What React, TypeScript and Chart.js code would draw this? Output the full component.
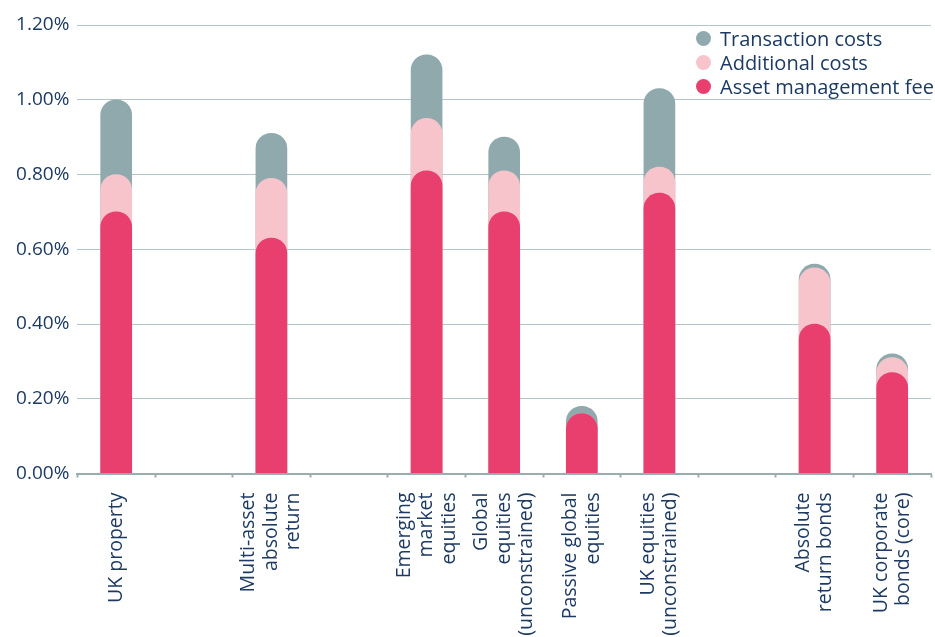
import React, { useEffect, useRef } from 'react';
import { Chart, registerables } from 'chart.js';

Chart.register(...registerables);

// ---- data ----
const categoryLabels: string[][] = [
  ['UK property'],
  [],
  ['Multi-asset', 'absolute', 'return'],
  [],
  ['Emerging', 'market', 'equities'],
  ['Global', 'equities', '(unconstrained)'],
  ['Passive global', 'equities'],
  ['UK equities', '(unconstrained)'],
  [],
  ['Absolute', 'return bonds'],
  ['UK corporate', 'bonds (core)'],
];
const assetManagementFee: (number | null)[] = [0.70, null, 0.63, null, 0.81, 0.70, 0.16, 0.75, null, 0.40, 0.27];
const additionalCosts: (number | null)[] = [0.10, null, 0.16, null, 0.14, 0.11, 0.00, 0.07, null, 0.15, 0.04];
const transactionCosts: (number | null)[] = [0.20, null, 0.12, null, 0.17, 0.09, 0.02, 0.21, null, 0.01, 0.01];
const seriesNames = ['Transaction costs', 'Additional costs', 'Asset management fee'];
const yMin = 0;
const yMax = 1.2;
const yStep = 0.2;

// ---- style ----
const NAVY = '#1d3a63';
const GRAY = '#8fa9ad';
const PINK = '#f7c4cc';
const RED = '#e83f6f';
const GRID = '#b2c6c8';
const AXIS = '#9aadb0';
const FONT = '"Open Sans", "Noto Sans", sans-serif';
const seriesColors = [GRAY, PINK, RED];

const cumulative = (...arrs: (number | null)[][]) =>
  arrs[0].map((_, i) => {
    if (arrs.some((a) => a[i] == null)) return null;
    return +arrs.reduce((s, a) => s + (a[i] as number), 0).toFixed(4);
  });

const xLabelPlugin = {
  id: 'xLabelsCentered',
  afterDraw(chart: any) {
    const xs = chart.scales.x;
    const ctx = chart.ctx;
    const lh = 22.5;
    ctx.save();
    ctx.font = `19.5px ${FONT}`;
    ctx.fillStyle = NAVY;
    ctx.textAlign = 'right';
    ctx.textBaseline = 'middle';
    (chart.data.labels as string[][]).forEach((lines, i) => {
      const cx = xs.getPixelForValue(i);
      const n = lines.length;
      lines.forEach((line, j) => {
        ctx.save();
        ctx.translate(cx + (j - (n - 1) / 2) * lh, xs.top + 19);
        ctx.rotate(-Math.PI / 2);
        ctx.fillText(line, 0, 0);
        ctx.restore();
      });
    });
    ctx.restore();
  },
};

export default function App() {
  const canvasRef = useRef<HTMLCanvasElement | null>(null);

  useEffect(() => {
    if (!canvasRef.current) return;
    const totals = cumulative(assetManagementFee, additionalCosts, transactionCosts);
    const feePlusAdditional = cumulative(assetManagementFee, additionalCosts);
    const feeOnly = cumulative(assetManagementFee);
    const seriesData = [totals, feePlusAdditional, feeOnly];

    const chart = new Chart(canvasRef.current, {
      type: 'bar',
      data: {
        labels: categoryLabels as any,
        datasets: seriesNames.map((name, k) => ({
          label: name,
          data: seriesData[k],
          backgroundColor: seriesColors[k],
          order: 3 - k,
          grouped: false,
          barThickness: 31,
          borderRadius: 16,
          borderSkipped: 'start',
        })) as any,
      },
      options: {
        animation: false,
        responsive: false,
        events: [],
        layout: { padding: { top: 25, right: 4, bottom: 0, left: 0 } },
        plugins: {
          legend: { display: false },
          tooltip: { enabled: false },
        },
        scales: {
          x: {
            type: 'category',
            afterFit: (scale: any) => {
              scale.height = 163.5;
            },
            grid: {
              display: true,
              drawOnChartArea: false,
              drawTicks: true,
              tickLength: 4,
              tickWidth: 2,
              tickColor: AXIS,
              offset: true,
            },
            border: { display: true, color: AXIS, width: 2 },
            ticks: { display: false, autoSkip: false, maxRotation: 90, minRotation: 90 },
          },
          y: {
            min: yMin,
            max: yMax,
            afterFit: (scale: any) => {
              scale.width = 77.4;
            },
            grid: {
              color: GRID,
              lineWidth: 1,
              drawTicks: false,
            },
            border: { display: false },
            ticks: {
              stepSize: yStep,
              padding: 8,
              color: NAVY,
              font: { family: FONT, size: 19 },
              callback: (v: any) => Number(v).toFixed(2) + '%',
            },
          },
        },
      },
      plugins: [xLabelPlugin],
    });
    return () => chart.destroy();
  }, []);

  return (
    <div style={{ position: 'fixed', left: 0, top: 0, width: 935, height: 637, background: '#fff', overflow: 'hidden' }}>
      <canvas ref={canvasRef} width={935} height={637} style={{ display: 'block' }} />
      <div style={{ position: 'absolute', left: 696, top: 26, fontFamily: FONT, fontSize: 20, color: NAVY }}>
        {seriesNames.map((name, k) => (
          <div key={name} style={{ display: 'flex', alignItems: 'center', height: 24.2, whiteSpace: 'nowrap' }}>
            <span
              style={{
                display: 'inline-block',
                width: 15,
                height: 15,
                borderRadius: '50%',
                background: seriesColors[k],
                marginRight: 9,
              }}
            />
            <span>{name}</span>
          </div>
        ))}
      </div>
    </div>
  );
}
